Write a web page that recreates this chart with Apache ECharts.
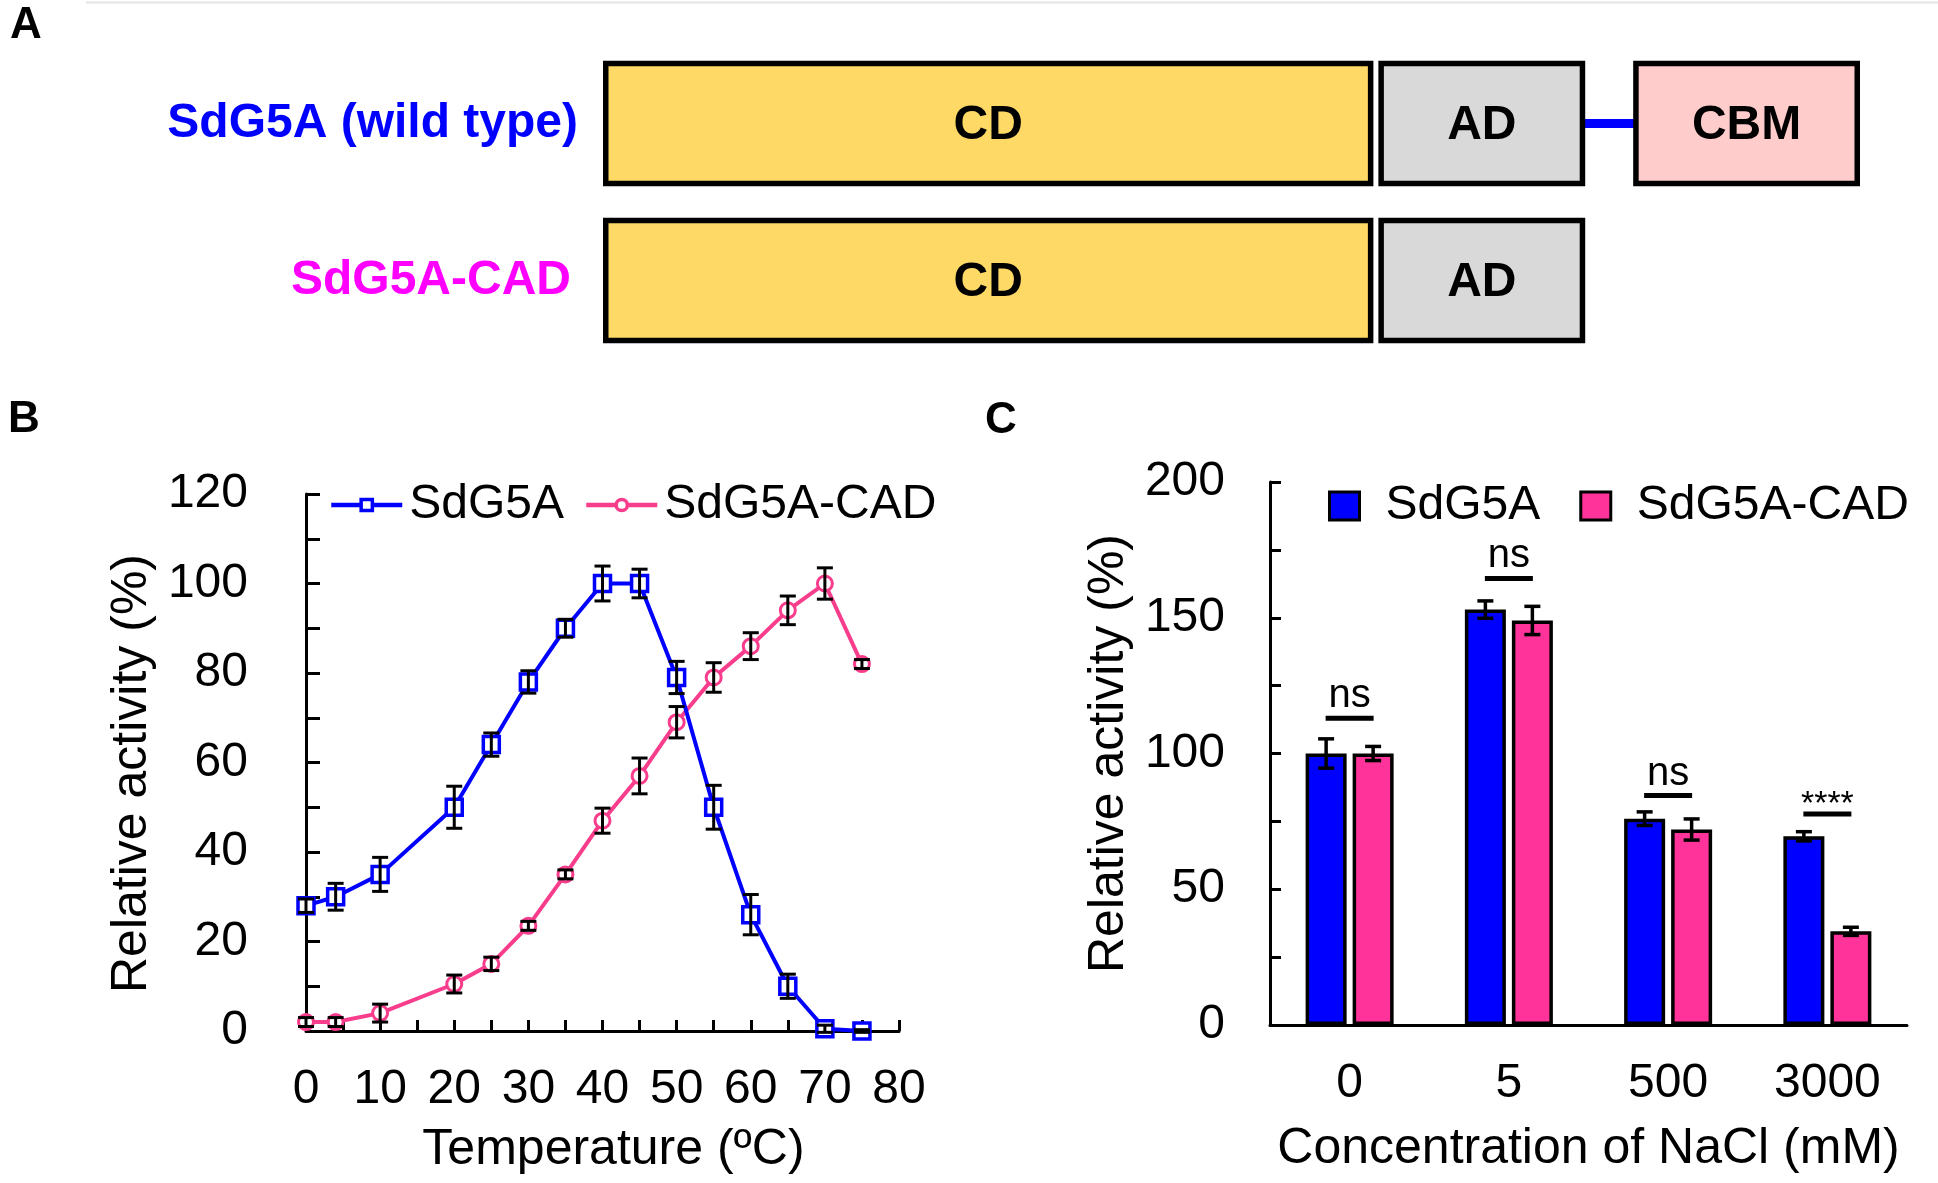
<!DOCTYPE html>
<html>
<head>
<meta charset="utf-8">
<title>SdG5A domains and activity</title>
<script src="https://cdn.jsdelivr.net/npm/echarts@6/dist/echarts.min.js"></script>
<style>
  html, body { margin: 0; padding: 0; background: #fff; }
  #page { position: relative; width: 1938px; height: 1183px; overflow: hidden; }
  #panelA { position: absolute; left: 0; top: 0; width: 1938px; height: 380px; }
  #panelB { position: absolute; left: 0; top: 380px; width: 980px; height: 803px; }
  #panelC { position: absolute; left: 980px; top: 380px; width: 958px; height: 803px; }
</style>
</head>
<body>
<div id="page">
  <div id="panelA"></div>
  <div id="panelB"></div>
  <div id="panelC"></div>
</div>
<script>
// ---- panel A: domain layout (arbitrary length units along the protein)
const constructs = ['SdG5A (wild type)', 'SdG5A-CAD'];
const domainRows = [0, 0, 0, 1, 1];
const domainNames = ['CD', 'AD', 'CBM', 'CD', 'AD'];
const domainStart = [0, 776, 1031, 0, 776];
const domainEnd = [771, 983, 1258, 771, 983];
const linkerRows = [0];
const linkerStart = [983];
const linkerEnd = [1031];

// ---- panel B: temperature profile
const temps = [0, 4, 10, 20, 25, 30, 35, 40, 45, 50, 55, 60, 65, 70, 75];
const wtTemp = [28, 30, 35, 50, 64, 78, 90, 100, 100, 79, 50, 26, 10, 0.5, 0];
const wtTempErr = [1.5, 3, 3.8, 4.7, 2.6, 2.5, 2, 3.9, 3.2, 3.6, 4.9, 4.5, 2.7, 0.8, 0.3];
const cadTemp = [2, 2, 4, 10.5, 15, 23.5, 35, 47, 57, 69, 79, 86, 94, 100, 82];
const cadTempErr = [1, 1, 2, 2, 1.5, 1, 1, 2.8, 4, 3.5, 3.3, 3, 3.2, 3.5, 1];

// ---- panel C: NaCl tolerance
const naclLevels = ['0', '5', '500', '3000'];
const wtSalt = [100, 153, 76, 69.5];
const wtSaltErr = [5.4, 3.2, 2.5, 1.7];
const cadSalt = [100, 149, 72, 34.5];
const cadSaltErr = [2.6, 5.2, 3.9, 1.5];
const sigLabels = ['ns', 'ns', 'ns', '****'];
const sigHeights = [113, 164.5, 84.5, 77.7];

const FONT = '"Liberation Sans", Arial, Helvetica, sans-serif';
const BLUE = '#0000FF';
const PINK_LINE = '#F83D8C';
const PINK_BAR = '#FF3399';
const domainColors = { CD: '#FFD966', AD: '#D9D9D9', CBM: '#FFCCCC' };

function panelTitle(t, left, top) {
  return { text: t, left: left, top: top, padding: 0,
    textStyle: { fontFamily: FONT, fontSize: 44, fontWeight: 'bold', color: '#000' } };
}

// ================= A =================
const chartA = echarts.init(document.getElementById('panelA'), null, { renderer: 'canvas' });

function renderDomain(params, api) {
  const row = api.value(0);
  const a = api.coord([api.value(1), row]);
  const b = api.coord([api.value(2), row]);
  const h = api.size([0, 1])[1] * 0.8;
  const lw = 5.5;
  const name = domainNames[params.dataIndex];
  return {
    type: 'group',
    children: [
      { type: 'rect',
        shape: { x: a[0] + lw / 2, y: a[1] - h / 2 + lw / 2, width: b[0] - a[0] - lw, height: h - lw },
        style: { fill: domainColors[name], stroke: '#000', lineWidth: lw } },
      { type: 'text',
        style: { text: name, x: (a[0] + b[0]) / 2, y: a[1] + 2, align: 'center', verticalAlign: 'middle',
          font: 'bold 48px ' + FONT, fill: '#000' } }
    ]
  };
}

function renderLinker(params, api) {
  const row = api.value(0);
  const a = api.coord([api.value(1), row]);
  const b = api.coord([api.value(2), row]);
  return { type: 'line', shape: { x1: a[0] - 4, y1: a[1], x2: b[0] + 4, y2: a[1] },
    style: { stroke: BLUE, lineWidth: 9 } };
}

chartA.setOption({
  animation: false,
  title: panelTitle('A', 10, 4),
  graphic: [{ type: 'line', shape: { x1: 86, y1: 2.5, x2: 1938, y2: 2.5 }, style: { stroke: '#e4e4e4', lineWidth: 2 } }],
  grid: { left: 603, right: 78, top: 45, bottom: 21, containLabel: false, outerBoundsMode: 'none' },
  xAxis: { type: 'value', min: 0, max: 1258, show: false },
  yAxis: {
    type: 'category', data: constructs, inverse: true,
    axisLine: { show: false }, axisTick: { show: false }, splitLine: { show: false },
    axisLabel: {
      margin: 25,
      formatter: function (v, i) { return i === 0 ? '{wt|' + v + '}' : '{cad|' + v + '}'; },
      rich: {
        wt: { color: BLUE, fontFamily: FONT, fontSize: 48, fontWeight: 'bold' },
        cad: { color: '#FF00FF', fontFamily: FONT, fontSize: 48, fontWeight: 'bold', padding: [0, 7, 0, 0] }
      }
    }
  },
  series: [
    { type: 'custom', renderItem: renderLinker, encode: { y: 0, x: [1, 2] }, z: 1,
      data: linkerStart.map((s, i) => [linkerRows[i], s, linkerEnd[i]]) },
    { type: 'custom', renderItem: renderDomain, encode: { y: 0, x: [1, 2] }, z: 2,
      data: domainStart.map((s, i) => [domainRows[i], s, domainEnd[i]]) }
  ]
});

// ================= B =================
const chartB = echarts.init(document.getElementById('panelB'), null, { renderer: 'canvas' });

function renderErrPoint(params, api) {
  const x = api.value(0);
  const lo = api.coord([x, api.value(1)]);
  const hi = api.coord([x, api.value(2)]);
  const cap = 8;
  const st = { stroke: '#000', lineWidth: 3 };
  return { type: 'group', children: [
    { type: 'line', shape: { x1: lo[0], y1: lo[1], x2: hi[0], y2: hi[1] }, style: st },
    { type: 'line', shape: { x1: lo[0] - cap, y1: lo[1], x2: lo[0] + cap, y2: lo[1] }, style: st },
    { type: 'line', shape: { x1: hi[0] - cap, y1: hi[1], x2: hi[0] + cap, y2: hi[1] }, style: st }
  ] };
}

const axisBlack = { show: true, lineStyle: { color: '#000', width: 3 } };
const labelStyle = { color: '#000', fontFamily: FONT, fontSize: 48 };
const titleStyle = { color: '#000', fontFamily: FONT, fontSize: 50 };

chartB.setOption({
  animation: false,
  title: panelTitle('B', 8, 18),
  legend: {
    left: 329, top: 101, padding: 0, itemGap: 20, itemWidth: 71, itemHeight: 14,
    textStyle: { color: '#000', fontFamily: FONT, fontSize: 48, lineHeight: 48, padding: [0, 0, 0, 2] },
    data: [
      { name: 'SdG5A', lineStyle: { width: 4.5 }, itemStyle: { borderWidth: 3.5 } },
      { name: 'SdG5A-CAD', lineStyle: { width: 4.5 }, itemStyle: { borderWidth: 3.5 } }
    ]
  },
  grid: { left: 306, right: 81, top: 114, bottom: 152, containLabel: false, outerBoundsMode: 'none' },
  xAxis: {
    type: 'value', min: 0, max: 80, interval: 10,
    name: 'Temperature (ºC)', nameLocation: 'middle', nameGap: 94,
    nameTextStyle: Object.assign({ padding: [0, 0, 0, 22] }, titleStyle),
    axisLine: axisBlack,
    axisTick: { show: true, inside: true, length: 11, lineStyle: { color: '#000', width: 3 } },
    minorTick: { show: true, splitNumber: 2, length: 11, lineStyle: { color: '#000', width: 3 } },
    splitLine: { show: false },
    axisLabel: Object.assign({ margin: 35 }, labelStyle)
  },
  yAxis: {
    type: 'value', min: 0, max: 120, interval: 20,
    name: 'Relative activity (%)', nameLocation: 'middle', nameGap: 141, nameRotate: 90,
    nameTextStyle: Object.assign({ padding: [0, 22, 0, 0] }, titleStyle),
    axisLine: axisBlack,
    axisTick: { show: true, inside: true, length: 14, lineStyle: { color: '#000', width: 3 } },
    minorTick: { show: true, splitNumber: 2, length: 14, lineStyle: { color: '#000', width: 3 } },
    splitLine: { show: false },
    axisLabel: Object.assign({ margin: 58 }, labelStyle)
  },
  series: [
    { name: 'SdG5A', type: 'line', data: temps.map((t, i) => [t, wtTemp[i]]),
      symbol: 'rect', symbolSize: 16, showAllSymbol: true, z: 3,
      lineStyle: { color: BLUE, width: 4 },
      itemStyle: { color: '#fff', borderColor: BLUE, borderWidth: 3.5 } },
    { name: 'SdG5A-CAD', type: 'line', data: temps.map((t, i) => [t, cadTemp[i]]),
      symbol: 'circle', symbolSize: 15, showAllSymbol: true, z: 2,
      lineStyle: { color: PINK_LINE, width: 4 },
      itemStyle: { color: '#fff', borderColor: PINK_LINE, borderWidth: 3 } },
    { type: 'custom', renderItem: renderErrPoint, encode: { x: 0, y: [1, 2] }, z: 5,
      data: temps.map((t, i) => [t, wtTemp[i] - wtTempErr[i], wtTemp[i] + wtTempErr[i]]) },
    { type: 'custom', renderItem: renderErrPoint, encode: { x: 0, y: [1, 2] }, z: 5,
      data: temps.map((t, i) => [t, cadTemp[i] - cadTempErr[i], cadTemp[i] + cadTempErr[i]]) }
  ]
});

// ================= C =================
const chartC = echarts.init(document.getElementById('panelC'), null, { renderer: 'canvas' });

const BAR_W = 41;
const BAR_GAP = 6;

function errBarRenderer(side) {
  return function (params, api) {
    const c = api.value(0);
    const lo = api.coord([c, api.value(1)]);
    const hi = api.coord([c, api.value(2)]);
    const x = lo[0] + side * (BAR_W + BAR_GAP) / 2;
    const cap = 8;
    const st = { stroke: '#000', lineWidth: 3.5 };
    return { type: 'group', children: [
      { type: 'line', shape: { x1: x, y1: lo[1], x2: x, y2: hi[1] }, style: st },
      { type: 'line', shape: { x1: x - cap, y1: lo[1], x2: x + cap, y2: lo[1] }, style: st },
      { type: 'line', shape: { x1: x - cap, y1: hi[1], x2: x + cap, y2: hi[1] }, style: st }
    ] };
  };
}

function renderSig(params, api) {
  const p = api.coord([api.value(0), api.value(1)]);
  const label = sigLabels[params.dataIndex];
  const star = label.indexOf('*') >= 0;
  return { type: 'group', children: [
    { type: 'line', shape: { x1: p[0] - 24, y1: p[1], x2: p[0] + 24, y2: p[1] },
      style: { stroke: '#000', lineWidth: 5 } },
    { type: 'text', style: { text: label, x: p[0], y: star ? p[1] + 8 : p[1] - 2,
      align: 'center', verticalAlign: 'bottom', font: (star ? 34 : 40) + 'px ' + FONT, fill: '#000' } }
  ] };
}

chartC.setOption({
  animation: false,
  title: panelTitle('C', 5, 19),
  legend: {
    left: 348, top: 102, padding: 0, itemGap: 39, itemWidth: 30, itemHeight: 28,
    textStyle: { color: '#000', fontFamily: FONT, fontSize: 48, lineHeight: 48, padding: [0, 0, 0, 21] },
    data: [
      { name: 'SdG5A', icon: 'rect', itemStyle: { color: BLUE, borderColor: '#000', borderWidth: 3 } },
      { name: 'SdG5A-CAD', icon: 'rect', itemStyle: { color: PINK_BAR, borderColor: '#000', borderWidth: 3 } }
    ]
  },
  grid: { left: 290, right: 31, top: 102, bottom: 158, containLabel: false, outerBoundsMode: 'none' },
  xAxis: {
    type: 'category', data: naclLevels,
    name: 'Concentration of NaCl (mM)', nameLocation: 'middle', nameGap: 99,
    nameTextStyle: titleStyle,
    axisLine: axisBlack, axisTick: { show: false }, splitLine: { show: false },
    axisLabel: Object.assign({ margin: 35 }, labelStyle)
  },
  yAxis: {
    type: 'value', min: 0, max: 200, interval: 50,
    name: 'Relative activity (%)', nameLocation: 'middle', nameGap: 131, nameRotate: 90,
    nameTextStyle: titleStyle,
    axisLine: axisBlack,
    axisTick: { show: true, inside: true, length: 11, lineStyle: { color: '#000', width: 3 } },
    minorTick: { show: true, splitNumber: 2, length: 11, lineStyle: { color: '#000', width: 3 } },
    splitLine: { show: false },
    axisLabel: Object.assign({ margin: 45 }, labelStyle)
  },
  series: [
    { name: 'SdG5A', type: 'bar', data: wtSalt, barWidth: BAR_W, barGap: (BAR_GAP / BAR_W * 100) + '%',
      itemStyle: { color: BLUE, borderColor: '#000', borderWidth: 3.5 } },
    { name: 'SdG5A-CAD', type: 'bar', data: cadSalt, barWidth: BAR_W,
      itemStyle: { color: PINK_BAR, borderColor: '#000', borderWidth: 3.5 } },
    { type: 'custom', renderItem: errBarRenderer(-1), encode: { x: 0, y: [1, 2] }, z: 5,
      data: wtSalt.map((v, i) => [i, v - wtSaltErr[i], v + wtSaltErr[i]]) },
    { type: 'custom', renderItem: errBarRenderer(1), encode: { x: 0, y: [1, 2] }, z: 5,
      data: cadSalt.map((v, i) => [i, v - cadSaltErr[i], v + cadSaltErr[i]]) },
    { type: 'custom', renderItem: renderSig, encode: { x: 0, y: 1 }, z: 5,
      data: sigHeights.map((h, i) => [i, h]) }
  ]
});
</script>
</body>
</html>
